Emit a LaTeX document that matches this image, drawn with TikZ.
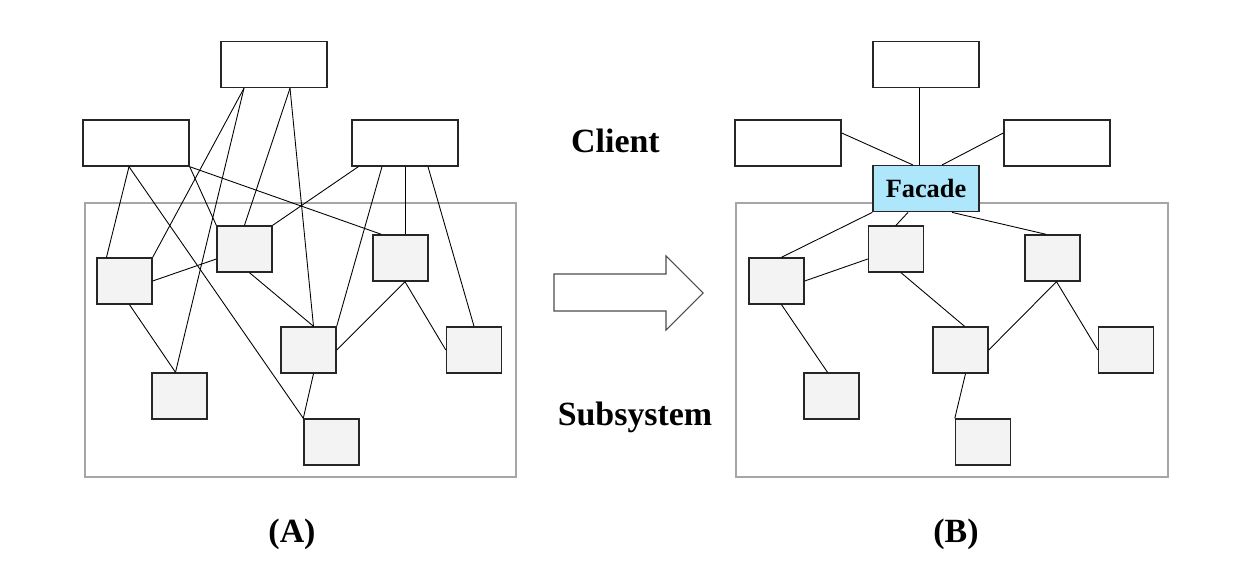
\documentclass[tikz,border=0pt]{standalone}
\usepackage{fontspec}
\setmainfont{Liberation Serif}
\usetikzlibrary{calc}
\definecolor{partgray}{HTML}{F3F3F3}
\definecolor{facadeblue}{HTML}{AEE6FB}
\tikzset{
  client/.style={draw=black!85, fill=white, line width=0.8pt, inner sep=0pt,
    minimum width=2.12cm, minimum height=0.92cm},
  part/.style={draw=black!85, fill=partgray, line width=0.8pt, inner sep=0pt,
    minimum width=1.1cm, minimum height=0.92cm},
  frame/.style={draw=black!35, line width=0.8pt},
  link/.style={draw=black, line width=0.5pt},
  label/.style={anchor=base, font=\fontsize{19.3}{23}\selectfont\bfseries}
}
\begin{document}
\begin{tikzpicture}[x=0.02cm, y=-0.02cm]
    \useasboundingbox (0,0) rectangle (1250,573);

    % (A) without facade
    \draw[frame] (85,203) rectangle (516,477);
    \node[client] (tcA) at (274,64.5) {};
    \node[client] (lcA) at (136,143) {};
    \node[client] (rcA) at (405,143) {};
    \node[part] (A1) at (124.5,281) {};
    \node[part] (A2) at (244.5,249) {};
    \node[part] (A3) at (400.5,258) {};
    \node[part] (A4) at (308.5,350) {};
    \node[part] (A5) at (474,350) {};
    \node[part] (A6) at (179.5,396) {};
    \node[part] (A7) at (331.5,442) {};

    \draw[link] ($(tcA.south)+(-30,0)$) -- (A1.north east);
    \draw[link] ($(tcA.south)+(-30,0)$) -- ($(A6.north)+(-4,0)$);
    \draw[link] ($(tcA.south)+(16,0)$) -- (A2.north);
    \draw[link] ($(tcA.south)+(16,0)$) -- ($(A4.north)+(5,0)$);
    \draw[link] ($(lcA.south)+(-7,0)$) -- ($(A1.north)+(-18,0)$);
    \draw[link] ($(lcA.south)+(-7,0)$) -- (A7.north west);
    \draw[link] (lcA.south east) -- (A2.north west);
    \draw[link] (lcA.south east) -- ($(A3.north west)+(9,0)$);
    \draw[link] ($(rcA.south west)+(7,0)$) -- (A2.north east);
    \draw[link] ($(rcA.south)+(-23,0)$) -- (A4.north east);
    \draw[link] (rcA.south) -- (rcA.south |- A3.north);
    \draw[link] ($(rcA.south)+(23,0)$) -- (A5.north);
    \draw[link] (A1.east) -- ($(A2.west)+(0,10)$);
    \draw[link] ($(A1.south)+(5,0)$) -- ($(A6.north)+(-4,0)$);
    \draw[link] ($(A2.south)+(5,0)$) -- ($(A4.north)+(5,0)$);
    \draw[link] ($(A3.south)+(4.5,0)$) -- (A4.east);
    \draw[link] ($(A3.south)+(4.5,0)$) -- (A5.west);
    \draw[link] ($(A4.south)+(5,0)$) -- (A7.north west);

    % Arrow
    \draw[draw=black!70, fill=white, line width=0.6pt]
        (554,274) -- (666,274) -- (666,256) -- (703,293) -- (666,330)
        -- (666,311) -- (554,311) -- cycle;

    % (B) with facade
    \draw[frame] (736,203) rectangle (1168,477);
    \node[client] (tcB) at (926,64.5) {};
    \node[client] (lcB) at (788,143) {};
    \node[client] (rcB) at (1057,143) {};
    \node[client, fill=facadeblue, font=\fontsize{15}{18}\selectfont\bfseries]
        (facade) at (926,188.7) {Facade};
    \node[part] (B1) at (776.5,281) {};
    \node[part] (B2) at (896,249) {};
    \node[part] (B3) at (1052.5,258) {};
    \node[part] (B4) at (960.5,350) {};
    \node[part] (B5) at (1126,350) {};
    \node[part] (B6) at (831.5,396) {};
    \node[part] (B7) at (983,442) {};

    \draw[link] ($(tcB.south)+(-7,0)$) -- ($(facade.north)+(-7,0)$);
    \draw[link] ($(lcB.east)+(0,-10)$) -- ($(facade.north)+(-13,0)$);
    \draw[link] ($(rcB.west)+(0,-10)$) -- ($(facade.north)+(16,0)$);
    \draw[link] (facade.south west) -- ($(B1.north)+(5,0)$);
    \draw[link] ($(facade.south)+(-18,0)$) -- (B2.north);
    \draw[link] ($(facade.south)+(26,0)$) -- ($(B3.north)+(-6.5,0)$);
    \draw[link] (B1.east) -- ($(B2.west)+(0,10)$);
    \draw[link] ($(B1.south)+(5,0)$) -- ($(B6.north)+(-4,0)$);
    \draw[link] ($(B2.south)+(5,0)$) -- ($(B4.north)+(4,0)$);
    \draw[link] ($(B3.south)+(4,0)$) -- (B4.east);
    \draw[link] ($(B3.south)+(4,0)$) -- (B5.west);
    \draw[link] ($(B4.south)+(5,0)$) -- (B7.north west);

    % Labels
    \node[label] (client) at (615.5,152.7) {Client};
    \node[label] (subsystem) at (635,426) {Subsystem};
    \node[label] (capA) at (292,542) {(A)};
    \node[label] (capB) at (956,542) {(B)};
\end{tikzpicture}
\end{document}
